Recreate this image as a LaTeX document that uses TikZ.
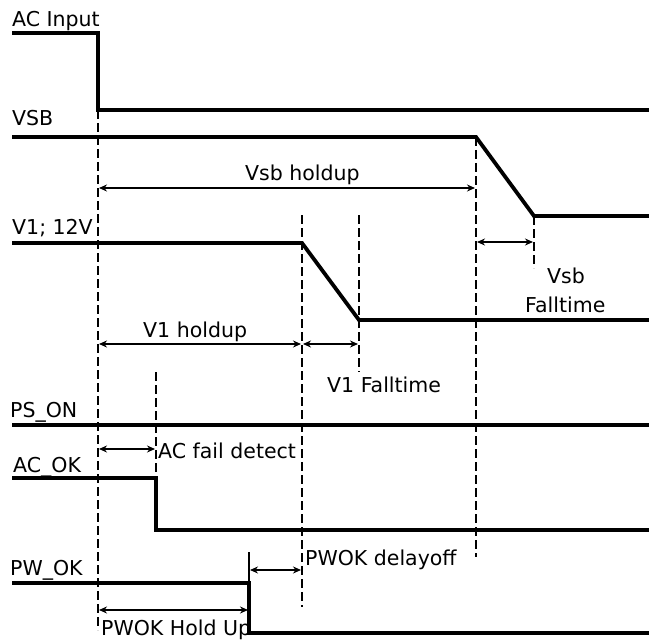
\documentclass[tikz,border=0pt]{standalone}
\usepackage{fontspec}
\setmainfont{DejaVu Sans}
\usetikzlibrary{arrows.meta}
\tikzset{
  sig/.style={line width=3.8pt, line cap=butt, line join=miter},
  tick/.style={line width=2.6pt},
  guide/.style={line width=2.8pt, dash pattern=on 9pt off 4pt},
  span/.style={line width=1.7pt, {Stealth[length=8pt,width=7pt]}-{Stealth[length=8pt,width=7pt]}},
  lbl/.style={inner sep=0pt, anchor=base west, font=\fontsize{20.5}{23}\selectfont},
}
\begin{document}
\begin{tikzpicture}[x=1pt,y=-1pt]
\useasboundingbox (0,0) rectangle (649,642);
% ---- signal names
\node[lbl] (nAC)  at (12,27)  {AC Input};
\node[lbl] (nVSB) at (12,126) {VSB};
\node[lbl] (nV1)  at (12,234) {V1; 12V};
\node[lbl] (nPS)  at (10,417) {PS\_ON};
\node[lbl] (nACOK) at (13,472) {AC\_OK};
\node[lbl] (nPW)  at (10,575) {PW\_OK};
% ---- timing labels
\node[lbl] (lVsbH) at (245,180) {Vsb holdup};
\node[lbl] (lVsbF1) at (547,283) {Vsb};
\node[lbl] (lVsbF2) at (525,312) {Falltime};
\node[lbl] (lV1H) at (143,337) {V1 holdup};
\node[lbl] (lV1F) at (327,392) {V1 Falltime};
\node[lbl] (lACF) at (158,458) {AC fail detect};
\node[lbl] (lPWD) at (305,565) {PWOK delayoff};
\node[lbl] (lPWH) at (101,635) {PWOK Hold Up};
% ---- waveforms
\draw[sig] (12,33) -- (98,33) -- (98,110) -- (649,110);
\draw[sig] (12,137) -- (476,137) -- (534,216) -- (649,216);
\draw[sig] (12,243) -- (302,243) -- (359,320) -- (649,320);
\draw[sig] (12,425) -- (649,425);
\draw[sig] (12,478) -- (156,478) -- (156,530) -- (649,530);
\draw[sig] (12,583) -- (249,583) -- (249,633) -- (649,633);
\draw[tick] (249,552) -- (249,583);
% ---- guide lines
\coordinate (gA1) at (98,110);  \coordinate (gA2) at (98,630);
\coordinate (gB1) at (156,372); \coordinate (gB2) at (156,478);
\coordinate (gD1) at (302,215); \coordinate (gD2) at (302,607);
\coordinate (gE1) at (359,215); \coordinate (gE2) at (359,372);
\coordinate (gF1) at (476,137); \coordinate (gF2) at (476,557);
\coordinate (gG1) at (534,216); \coordinate (gG2) at (534,268);
\draw[guide] (gA1) -- (gA2);
\draw[guide] (gB1) -- (gB2);
\draw[guide] (gD1) -- (gD2);
\draw[guide] (gE1) -- (gE2);
\draw[guide] (gF1) -- (gF2);
\draw[guide] (gG1) -- (gG2);
% ---- spans
\coordinate (s1a) at (99,188);  \coordinate (s1b) at (475,188);
\coordinate (s2a) at (477,242); \coordinate (s2b) at (533,242);
\coordinate (s3a) at (99,344);  \coordinate (s3b) at (301,344);
\coordinate (s4a) at (303,344); \coordinate (s4b) at (358,344);
\coordinate (s5a) at (99,449);  \coordinate (s5b) at (155,449);
\coordinate (s6a) at (250,570); \coordinate (s6b) at (301,570);
\coordinate (s7a) at (99,610);  \coordinate (s7b) at (248,610);
\draw[span] (s1a) -- (s1b);
\draw[span] (s2a) -- (s2b);
\draw[span] (s3a) -- (s3b);
\draw[span] (s4a) -- (s4b);
\draw[span] (s5a) -- (s5b);
\draw[span] (s6a) -- (s6b);
\draw[span] (s7a) -- (s7b);
\end{tikzpicture}
\end{document}
